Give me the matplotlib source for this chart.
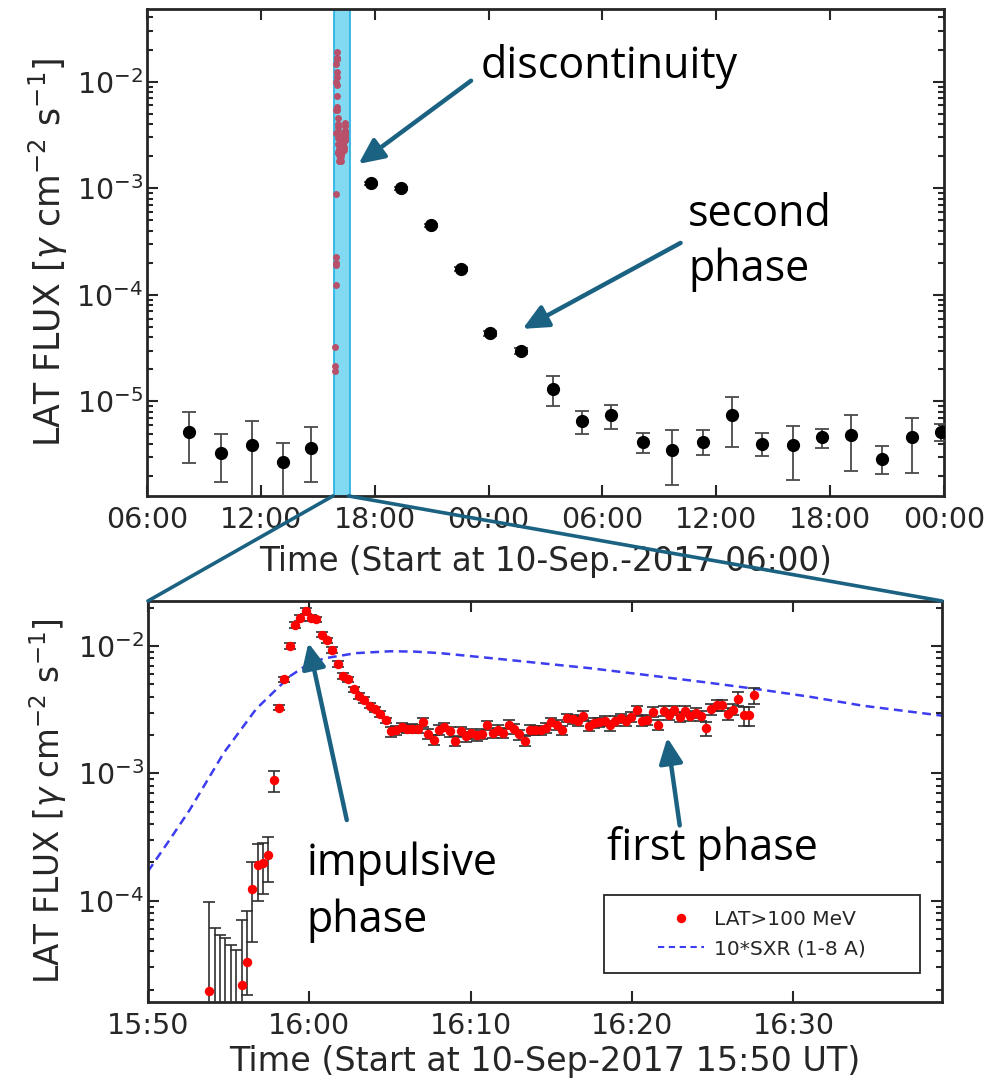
import numpy as np
import matplotlib
matplotlib.use("Agg")
import matplotlib.pyplot as plt
from matplotlib.patches import ConnectionPatch, Rectangle
from matplotlib.lines import Line2D
from matplotlib.ticker import FixedLocator, FixedFormatter, LogLocator, NullFormatter

# ---------------- data: top panel (hours after 10-Sep-2017 06:00) ----------------
top_hours = [2.24, 3.89, 5.56, 7.15, 8.66, 11.80, 13.40, 14.98, 16.57, 18.08, 19.73, 21.42,
             22.91, 24.45, 26.12, 27.66, 29.31, 30.82, 32.40, 34.03, 35.57, 37.12, 38.75,
             40.33, 41.86]
top_flux = [5.2e-6, 3.3e-6, 3.9e-6, 2.7e-6, 3.7e-6, 1.11e-3, 1.0e-3, 4.5e-4, 1.75e-4, 4.35e-5,
            3.0e-5, 1.31e-5, 6.5e-6, 7.4e-6, 4.2e-6, 3.5e-6, 4.2e-6, 7.4e-6, 4.0e-6, 3.9e-6,
            4.6e-6, 4.9e-6, 2.9e-6, 4.6e-6, 5.2e-6]
top_lo = [2.66e-6, 1.74e-6, 1e-7, 1e-7, 1.74e-6, 1.07e-3, 0.97e-3, 4.35e-4, 1.68e-4, 4.1e-5,
          2.8e-5, 9.1e-6, 5.0e-6, 5.5e-6, 3.3e-6, 1.63e-6, 3.16e-6, 3.77e-6, 3.08e-6, 1.84e-6,
          3.63e-6, 2.23e-6, 2.09e-6, 2.15e-6, 4.3e-6]
top_hi = [7.9e-6, 5.0e-6, 6.5e-6, 4.07e-6, 5.8e-6, 1.15e-3, 1.03e-3, 4.65e-4, 1.82e-4, 4.6e-5,
          3.2e-5, 1.72e-5, 8.15e-6, 9.2e-6, 5.1e-6, 5.45e-6, 5.37e-6, 1.1e-5, 5.06e-6, 5.9e-6,
          5.5e-6, 7.46e-6, 3.8e-6, 7.05e-6, 6.2e-6]
top_tick_hours = [0, 6, 12, 18, 24, 30, 36, 42]
top_tick_labels = ["06:00", "12:00", "18:00", "00:00", "06:00", "12:00", "18:00", "00:00"]
band_hours = [9.87, 10.71]
window_start_hours = 9.8333   # 15:50 relative to 06:00

# ---------------- data: bottom panel (minutes after 15:50 UT) ----------------
lat_time_min = [3.81, 4.14, 4.47, 4.80, 5.13, 5.47, 5.80, 6.13, 6.46, 6.79, 7.12, 7.45, 7.78,
                8.11, 8.44, 8.78, 9.11, 9.44, 9.77, 10.10, 10.43, 10.76, 11.09, 11.42, 11.75,
                12.09, 12.42, 12.75, 13.08, 13.41, 13.74, 14.07, 14.40, 14.73, 15.06, 15.40,
                15.73, 16.06, 16.39, 16.72, 17.05, 17.38, 17.71, 18.04, 18.37, 18.71, 19.04,
                19.37, 19.70, 20.03, 20.36, 20.69, 21.02, 21.35, 21.68, 22.02, 22.35, 22.68,
                23.01, 23.34, 23.67, 24.00, 24.33, 24.66, 24.99, 25.33, 25.66, 25.99, 26.32,
                26.65, 26.98, 27.31, 27.64, 27.97, 28.30, 28.64, 28.97, 29.30, 29.63, 29.96,
                30.29, 30.62, 30.95, 31.28, 31.61, 31.95, 32.28, 32.61, 32.94, 33.27, 33.60,
                33.93, 34.26, 34.59, 34.92, 35.26, 35.59, 35.92, 36.25, 36.58, 36.91, 37.24,
                37.57]
lat_flux_e3 = [0.0195, 0.001, 0.001, 0.001, 0.001, 0.001, 0.0216, 0.0327, 0.124, 0.189, 0.197,
               0.228, 0.887,
               3.29, 5.47, 10.0, 14.6, 16.7, 18.9, 16.7, 16.2, 12.3, 11.1, 9.3, 7.26, 5.8, 5.47,
               4.56, 4.04, 3.76, 3.41, 3.18, 2.94, 2.61,
               2.14, 2.18, 2.30, 2.24, 2.25, 2.24, 2.52, 2.04, 1.82, 2.20, 2.32, 2.14, 1.79, 2.14,
               1.95, 2.06, 1.99, 2.05, 2.40, 2.08,
               2.20, 2.08, 2.42, 2.24, 2.02, 1.81, 2.20, 2.18, 2.18, 2.27, 2.54, 2.42, 2.18, 2.73,
               2.65, 2.60, 2.84, 2.37, 2.50, 2.52,
               2.57, 2.38, 2.57, 2.70, 2.60, 2.76, 3.12, 2.57, 2.62, 3.04, 2.42, 3.08, 2.90, 3.13,
               2.76, 3.08, 2.84, 2.99, 2.84, 2.26,
               3.21, 3.43, 3.43, 2.94, 3.17, 3.86, 2.86, 2.86, 4.11]
lat_err_frac = [0.00, 0.00, 0.00, 0.00, 0.00, 0.00, 0.00, 0.00, 0.00, 0.00, 0.00, 0.00, 0.00,
                0.05, 0.05, 0.05, 0.05, 0.05, 0.05, 0.05, 0.05, 0.05, 0.05, 0.05, 0.05, 0.05,
                0.05, 0.05, 0.05, 0.05, 0.05, 0.05, 0.05, 0.05,
                0.09, 0.09, 0.08, 0.08, 0.08, 0.08, 0.09, 0.09, 0.09, 0.09, 0.08, 0.09, 0.09,
                0.09, 0.09, 0.09, 0.09, 0.09, 0.08, 0.09, 0.09, 0.09, 0.08, 0.09, 0.09, 0.09,
                0.09, 0.09, 0.09, 0.09, 0.08, 0.09, 0.09, 0.08, 0.08, 0.09, 0.08, 0.09, 0.09,
                0.09, 0.09, 0.09, 0.09, 0.08, 0.09, 0.09, 0.08, 0.09, 0.09, 0.09, 0.09, 0.09,
                0.09, 0.08, 0.09, 0.09, 0.09, 0.09, 0.09,
                0.13, 0.10, 0.10, 0.10, 0.10, 0.10, 0.12, 0.17, 0.17, 0.14]
early_lo_e3 = [0.0001, 0.0001, 0.0001, 0.0001, 0.0001, 0.0001, 0.0001, 0.018, 0.047, 0.100,
               0.113, 0.139, 0.72]
early_hi_e3 = [0.098, 0.061, 0.054, 0.0506, 0.045, 0.041, 0.071, 0.083, 0.20, 0.278, 0.286,
               0.318, 1.05]

sxr_time_min = [0, 1.3, 2.6, 4.7, 6.7, 8.8, 9.7, 10.9, 12.9, 15.0, 16.5, 18.1, 21.0, 24.5,
                27.4, 31.0, 34.5, 37.7, 41.0, 44.3, 49.2]
sxr_flux = [1.7e-4, 2.95e-4, 5.2e-4, 1.45e-3, 3.2e-3, 5.8e-3, 6.9e-3, 8.0e-3, 8.8e-3, 9.1e-3,
            9.05e-3, 8.8e-3, 8.1e-3, 7.3e-3, 6.7e-3, 5.9e-3, 5.2e-3, 4.6e-3, 4.0e-3, 3.4e-3,
            2.84e-3]
bot_tick_min = [0, 10, 20, 30, 40]
bot_tick_labels = ["15:50", "16:00", "16:10", "16:20", "16:30"]

# ---------------- derived arrays ----------------
lat_t = np.array(lat_time_min)
lat_f = np.array(lat_flux_e3) * 1e-3
frac = np.array(lat_err_frac)
lat_lo = lat_f * (1 - frac)
lat_hi = lat_f * (1 + frac)
n_early = len(early_lo_e3)
lat_lo[:n_early] = np.array(early_lo_e3) * 1e-3
lat_hi[:n_early] = np.array(early_hi_e3) * 1e-3
lat_hours = window_start_hours + lat_t / 60.0

tf = np.array(top_flux)
top_err = [tf - np.array(top_lo), np.array(top_hi) - tf]

# ---------------- styling ----------------
DARK = "#262626"
TEAL = "#1b6282"
ANN_FONT = ["Open Sans", "DejaVu Sans"]
ANN_SIZE = 31
plt.rcParams["font.family"] = ["DejaVu Sans"]
plt.rcParams["mathtext.fontset"] = "dejavusans"

fig = plt.figure(figsize=(9.91, 10.85), dpi=100)
ax1 = fig.add_axes([0.1483, 0.5429, 0.8042, 0.4488])
ax2 = fig.add_axes([0.1493, 0.0765, 0.8012, 0.3696])

ARROW = dict(arrowstyle="-|>,head_length=0.9,head_width=0.42", color=TEAL,
             lw=3.2, mutation_scale=17, shrinkA=0, shrinkB=0)
YLABEL = r"LAT FLUX [$\gamma$ cm$^{\mathsf{-2}}$ s$^{\mathsf{-1}}$]"


def style_axis(ax):
    for s in ax.spines.values():
        s.set_linewidth(2.0)
        s.set_color(DARK)
    ax.tick_params(which="both", direction="in", top=True, right=True, colors=DARK,
                   labelcolor=DARK, width=1.5)
    ax.tick_params(which="major", length=8, labelsize=20.5, pad=7)
    ax.tick_params(which="minor", length=4)
    ax.tick_params(axis="y", which="major", pad=3)


# ---------------- top panel ----------------
ax1.set_yscale("log")
ax1.set_xlim(0, 42)
ax1.set_ylim(1.3e-6, 4.8e-2)
ax1.axvspan(band_hours[0], band_hours[1], facecolor="#82d9f2", edgecolor="#22b0e0",
            lw=1.2, zorder=1)
ax1.plot(lat_hours, lat_f, "o", color="#b8506a", ms=5.0, mec="none", zorder=3)
ax1.errorbar(top_hours, top_flux, yerr=top_err, fmt="o", color="black", ms=8.5,
             ecolor="#4a4a4a", elinewidth=1.3, capsize=5, capthick=1.3, zorder=4)
ax1.xaxis.set_major_locator(FixedLocator(top_tick_hours))
ax1.xaxis.set_major_formatter(FixedFormatter(top_tick_labels))
ax1.yaxis.set_major_locator(LogLocator(base=10, numticks=20))
ax1.yaxis.set_minor_locator(LogLocator(base=10, subs=np.arange(2, 10), numticks=40))
ax1.yaxis.set_minor_formatter(NullFormatter())
style_axis(ax1)
ax1.set_xlabel("Time (Start at 10-Sep.-2017 06:00)", fontsize=23.5, color=DARK, labelpad=8)
ax1.set_ylabel(YLABEL, fontsize=25, color=DARK, labelpad=4)

# annotations (top)
ax1.annotate("", xy=(11.15, 1.69e-3), xytext=(17.08, 1.02e-2), arrowprops=ARROW, zorder=6)
ax1.text(17.56, 1.09e-2, "discontinuity", fontsize=ANN_SIZE, family=ANN_FONT, color="black",
         va="baseline", ha="left")
ax1.annotate("", xy=(19.8, 4.8e-5), xytext=(28.12, 3.07e-4), arrowprops=ARROW, zorder=6)
ax1.text(28.52, 4.46e-4, "second", fontsize=ANN_SIZE, family=ANN_FONT, color="black",
         va="baseline", ha="left")
ax1.text(28.52, 1.34e-4, "phase", fontsize=ANN_SIZE, family=ANN_FONT, color="black",
         va="baseline", ha="left")

# ---------------- bottom panel ----------------
ax2.set_yscale("log")
ax2.set_xlim(0, 49.2)
ax2.set_ylim(1.6e-5, 2.26e-2)
ax2.plot(sxr_time_min, sxr_flux, color="#3c3cf0", lw=1.8, dashes=(3.5, 2.2), zorder=2)
ax2.errorbar(lat_t, lat_f, yerr=[lat_f - lat_lo, lat_hi - lat_f], fmt="o", color="red",
             ms=6.8, mec="none", ecolor="#303030", elinewidth=1.2, capsize=4, capthick=1.2,
             zorder=3)
ax2.xaxis.set_major_locator(FixedLocator(bot_tick_min))
ax2.xaxis.set_major_formatter(FixedFormatter(bot_tick_labels))
ax2.yaxis.set_major_locator(LogLocator(base=10, numticks=20))
ax2.yaxis.set_minor_locator(LogLocator(base=10, subs=np.arange(2, 10), numticks=40))
ax2.yaxis.set_minor_formatter(NullFormatter())
style_axis(ax2)
ax2.set_xlabel("Time (Start at 10-Sep-2017 15:50 UT)", fontsize=24, color=DARK, labelpad=4)
ax2.set_ylabel(YLABEL, fontsize=23.5, color=DARK, labelpad=6)

ax2.annotate("", xy=(9.94, 1.06e-2), xytext=(12.32, 4.3e-4), arrowprops=ARROW, zorder=6)
ax2.text(9.84, 1.59e-4, "impulsive", fontsize=ANN_SIZE, family=ANN_FONT, color="black",
         va="baseline", ha="left")
ax2.text(9.84, 5.7e-5, "phase", fontsize=ANN_SIZE, family=ANN_FONT, color="black",
         va="baseline", ha="left")
ax2.annotate("", xy=(32.18, 1.91e-3), xytext=(32.95, 3.9e-4), arrowprops=ARROW, zorder=6)
ax2.text(28.43, 2.09e-4, "first phase", fontsize=ANN_SIZE, family=ANN_FONT, color="black",
         va="baseline", ha="left")

# legend with a MATLAB-like wide box
box = Rectangle((0.574, 0.072), 0.398, 0.195, transform=ax2.transAxes, facecolor="white",
                edgecolor=DARK, lw=1.3, zorder=7)
ax2.add_patch(box)
handles = [Line2D([], [], ls="none", marker="o", color="red", ms=6.8, mec="none"),
           Line2D([], [], color="#3c3cf0", lw=1.5, dashes=(3, 2.2))]
leg = ax2.legend(handles, ["LAT>100 MeV", "10*SXR (1-8 A)"], loc="center left",
                 bbox_to_anchor=(0.574 + 0.068, 0.072 + 0.0975), frameon=False, fontsize=14.5,
                 handlelength=2.3, handletextpad=0.5, labelspacing=0.5, borderpad=0.0,
                 borderaxespad=0.0)
leg.set_zorder(8)
for t in leg.get_texts():
    t.set_color(DARK)

# zoom connector lines from the highlighted band to the lower panel
y_bot_top = ax1.get_ylim()[0]
y_top_bot = ax2.get_ylim()[1]
for xa, xb in [(band_hours[0] - 0.07, ax2.get_xlim()[0]), (band_hours[1] - 0.09, ax2.get_xlim()[1])]:
    con = ConnectionPatch(xyA=(xa, y_bot_top), coordsA=ax1.transData,
                          xyB=(xb, y_top_bot), coordsB=ax2.transData,
                          color=TEAL, lw=2.6, zorder=10)
    fig.add_artist(con)

fig.savefig("out.png", dpi=100)
